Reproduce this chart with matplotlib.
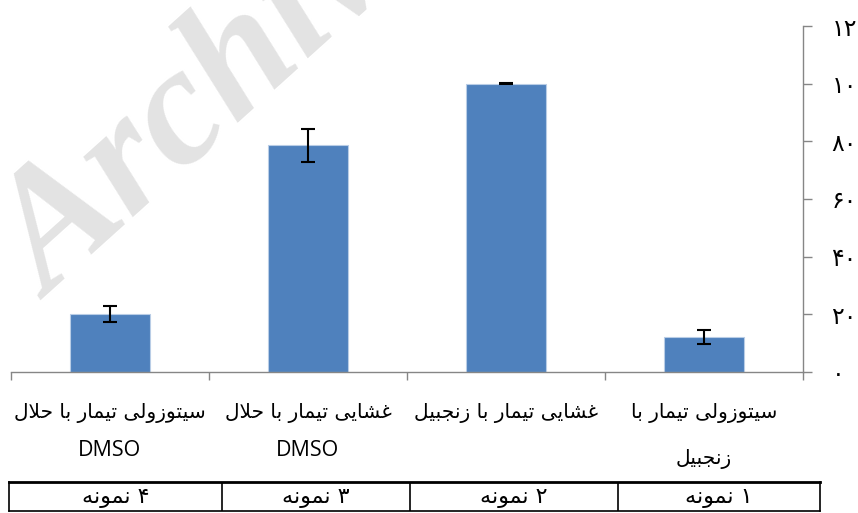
import matplotlib
matplotlib.use("Agg")
import matplotlib.pyplot as plt
import numpy as np

# data: samples in reading order (sample 1 sits at the right, RTL chart)
sample_labels = ["نمونه ۱", "نمونه ۲", "نمونه ۳", "نمونه ۴"]
category_labels = [
    "سیتوزولی تیمار با\nزنجبیل",
    "غشایی تیمار با زنجبیل",
    "غشایی تیمار با حلال\nDMSO",
    "سیتوزولی تیمار با حلال\nDMSO",
]
means = [12.1, 100.0, 78.6, 20.1]
errors = [2.4, 0.2, 5.8, 2.65]
y_ticks = [0, 20, 40, 60, 80, 100, 120]
y_tick_labels = ["۰", "۲۰", "۴۰", "۶۰", "۸۰", "۱۰۰", "۱۲۰"]

# presentation forms: isolated, final, initial, medial
FORMS = {
    "ا": ("\uFE8D", "\uFE8E", None, None),
    "ب": ("\uFE8F", "\uFE90", "\uFE91", "\uFE92"),
    "ت": ("\uFE95", "\uFE96", "\uFE97", "\uFE98"),
    "ج": ("\uFE9D", "\uFE9E", "\uFE9F", "\uFEA0"),
    "ح": ("\uFEA1", "\uFEA2", "\uFEA3", "\uFEA4"),
    "ر": ("\uFEAD", "\uFEAE", None, None),
    "ز": ("\uFEAF", "\uFEB0", None, None),
    "س": ("\uFEB1", "\uFEB2", "\uFEB3", "\uFEB4"),
    "ش": ("\uFEB5", "\uFEB6", "\uFEB7", "\uFEB8"),
    "غ": ("\uFECD", "\uFECE", "\uFECF", "\uFED0"),
    "ل": ("\uFEDD", "\uFEDE", "\uFEDF", "\uFEE0"),
    "م": ("\uFEE1", "\uFEE2", "\uFEE3", "\uFEE4"),
    "ن": ("\uFEE5", "\uFEE6", "\uFEE7", "\uFEE8"),
    "ه": ("\uFEE9", "\uFEEA", "\uFEEB", "\uFEEC"),
    "و": ("\uFEED", "\uFEEE", None, None),
    "ی": ("\uFEEF", "\uFEF0", "\uFEF3", "\uFEF4"),
    "لا": ("\uFEFB", "\uFEFC", None, None),
}


def shape_line(line):
    """Join Persian letters and put them in visual (left to right) order."""
    tokens = []
    i = 0
    while i < len(line):
        if line[i] == "ل" and i + 1 < len(line) and line[i + 1] == "ا":
            tokens.append("لا")
            i += 2
        else:
            tokens.append(line[i])
            i += 1

    out = []
    for k, t in enumerate(tokens):
        if t not in FORMS:
            out.append(t)
            continue
        prev = tokens[k - 1] if k > 0 else None
        nxt = tokens[k + 1] if k + 1 < len(tokens) else None
        join_prev = prev in FORMS and FORMS[prev][2] is not None
        join_next = FORMS[t][2] is not None and nxt in FORMS
        iso, fin, ini, med = FORMS[t]
        if join_prev and join_next:
            out.append(med)
        elif join_prev:
            out.append(fin)
        elif join_next:
            out.append(ini)
        else:
            out.append(iso)

    # reverse runs of Persian letters (spaces inside a run go with it)
    is_ar = [t in FORMS for t in tokens]
    res = []
    k = 0
    while k < len(out):
        if is_ar[k]:
            j = k
            while j + 1 < len(out) and (is_ar[j + 1] or (
                    tokens[j + 1] == " " and j + 2 < len(out) and is_ar[j + 2])):
                j += 1
            res.extend(reversed(out[k:j + 1]))
            k = j + 1
        else:
            res.append(out[k])
            k += 1
    return "".join(res)


plt.rcParams["font.family"] = ["DejaVu Sans"]
fig = plt.figure(figsize=(8.58, 5.13), dpi=100)
ax_bottom, ax_height = 372, 346
ax = fig.add_axes([11 / 858, 1 - ax_bottom / 513, 792 / 858, ax_height / 513])

x = np.arange(len(means))
ax.bar(x, means, width=0.4, color="#4F81BD", edgecolor="#b9cde6",
       linewidth=0.8, zorder=2)
ax.errorbar(x, means, yerr=errors, fmt="none", ecolor="black",
            elinewidth=1.5, capsize=4.7, capthick=1.5, zorder=3)

ax.set_xlim(3.5, -0.5)
ax.set_ylim(0, 120)

for side in ["top", "left"]:
    ax.spines[side].set_visible(False)
for side in ["right", "bottom"]:
    ax.spines[side].set_color("#868686")
    ax.spines[side].set_linewidth(1.0)

ax.yaxis.tick_right()
ax.set_yticks(y_ticks)
ax.set_yticklabels(y_tick_labels, fontsize=17, ha="left")
ax.tick_params(axis="y", direction="out", length=6.5, width=1.0,
               color="#868686", pad=14)

ax.set_xticks(x)
ax.set_xticklabels([""] * len(x))
ax.tick_params(axis="x", which="major", length=0)
ax.set_xticks(np.arange(-0.5, 4, 1), minor=True)
ax.tick_params(axis="x", which="minor", direction="out", length=6,
               width=1.0, color="#868686")

# category labels, one text per line (pixel rows below the axis)
trans = ax.get_xaxis_transform()
for xi, lab in zip(x, category_labels):
    lines = lab.split("\n")
    ax.text(xi, (ax_bottom - 413) / ax_height, shape_line(lines[0]),
            transform=trans, fontsize=14.5, ha="center", va="center")
    if len(lines) > 1:
        latin = lines[1].isascii()
        row = 451 if latin else 459
        ax.text(xi, (ax_bottom - row) / ax_height, shape_line(lines[1]),
                transform=trans, fontsize=15.5 if latin else 14.5,
                family="Open Sans" if latin else "DejaVu Sans",
                ha="center", va="center")

# watermark
fig.text(50 / 858, 1 - 300 / 513, "Archive of SID", fontsize=122,
         family="Liberation Serif", weight="bold", style="italic",
         color="#e3e3e3", rotation=42, rotation_mode="anchor",
         ha="left", va="baseline", zorder=0)

# sample table under the chart
tab = fig.add_axes([9 / 858, 1 - 511 / 513, 811 / 858, 29 / 513])
tab.set_xlim(0, 1)
tab.set_ylim(0, 1)
tab.set_xticks([])
tab.set_yticks([])
tab.patch.set_alpha(0)
for side in tab.spines:
    tab.spines[side].set_color("black")
    tab.spines[side].set_linewidth(1.2)
tab.spines["top"].set_linewidth(2.0)
bounds = [0, 0.263, 0.494, 0.751, 1.0]
for b in bounds[1:-1]:
    tab.axvline(b, color="black", linewidth=1.2)
cells = list(reversed(sample_labels))
for i, lab in enumerate(cells):
    tab.text((bounds[i] + bounds[i + 1]) / 2, 0.45, shape_line(lab),
             fontsize=16, ha="center", va="center")

fig.savefig("out.png", dpi=100)
